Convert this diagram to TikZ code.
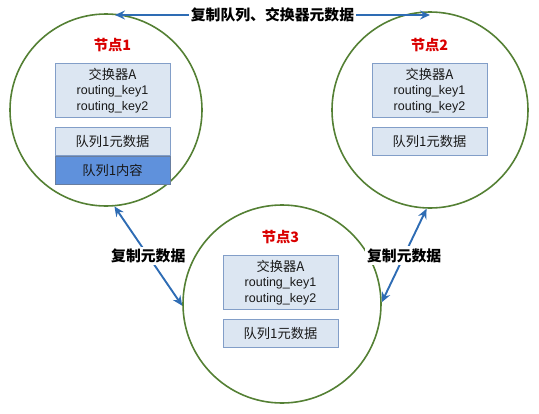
\documentclass[tikz,border=0pt]{standalone}
\usepackage{fontspec}
\setmainfont{Liberation Sans}
\newfontfamily\cjk[Scale=1.06]{Noto Sans CJK SC}
\usetikzlibrary{arrows.meta,positioning}
\definecolor{ringgreen}{RGB}{84,128,52}
\definecolor{boxfill}{RGB}{220,230,242}
\definecolor{boxline}{RGB}{130,158,200}
\definecolor{darkfill}{RGB}{95,145,220}
\definecolor{arrowblue}{RGB}{46,108,180}
\tikzset{
  ring/.style={circle,draw=ringgreen,line width=1.6pt,inner sep=0pt,minimum size=#1},
  infobox/.style={draw=boxline,fill=boxfill,line width=1pt,minimum width=115pt,
    align=center,inner sep=0pt,text=black!90,font=\fontsize{12.5}{15.5}\selectfont},
  title/.style={text=red!85!black,font=\cjk\bfseries\fontsize{13.5}{15}\selectfont},
  copyarrow/.style={arrowblue,line width=1.9pt,
    {Stealth[length=10pt,width=9pt,inset=3.5pt]}-{Stealth[length=10pt,width=9pt,inset=3.5pt]}},
  tag/.style={fill=white,text=black,font=\cjk\bfseries\fontsize{14}{16}\selectfont,inner sep=2pt}
}
\begin{document}
\begin{tikzpicture}[x=1pt,y=-1pt]
  \useasboundingbox (0,0) rectangle (539,413);
  \node[ring=192pt] (c1) at (106,110) {};
  \node[ring=196pt] (c2) at (430,110) {};
  \node[ring=198pt] (c3) at (282,304) {};
  \foreach \n/\x/\y in {1/112.5/63,2/429.5/63,3/280.5/255}{
    \node[infobox,minimum height=54pt,anchor=north] (keys\n) at (\x,\y)
      {{\cjk 交换器A}\\routing\_key1\\routing\_key2};
    \node[infobox,minimum height=28pt,below=9pt of keys\n] (meta\n) {\cjk 队列1元数据};
    \node[title,above=8pt of keys\n] (name\n) {节点\n};
  }
  \node[infobox,minimum height=28pt,fill=darkfill,draw=boxline!80!black,below=0pt of meta1]
    (body1) {\cjk 队列1内容};
  \coordinate (t1) at (115,15);
  \coordinate (t2) at (430,15);
  \draw[copyarrow] (t1) -- node[tag]{复制队列、交换器元数据} (t2);
  \draw[copyarrow] (c1.-85) -- node[tag]{复制元数据} (c3.181);
  \draw[copyarrow] (c2.-92) -- node[tag]{复制元数据} (c3.1);
\end{tikzpicture}
\end{document}
